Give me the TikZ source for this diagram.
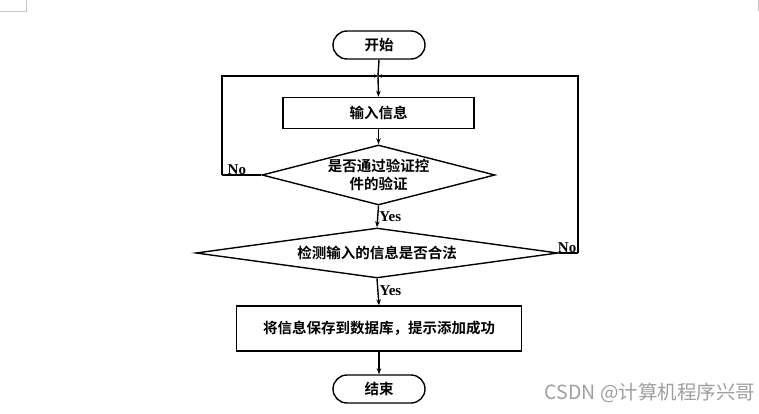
\documentclass[tikz,border=0pt]{standalone}
\usepackage{fontspec}
\setmainfont{Liberation Serif}
\newfontfamily\cjk{Noto Sans CJK SC}[BoldFont={Noto Sans CJK SC Bold}]
\usetikzlibrary{shapes.geometric,arrows.meta}
\begin{document}
\begin{tikzpicture}[x=1pt,y=-1pt,
  line width=1.4pt,
  arr/.style={-{Stealth[length=6pt,width=4.5pt]}},
  arrs/.style={-{Stealth[length=4pt,width=3.5pt]}},
  cjktext/.style={font=\cjk\bfseries\fontsize{14.5}{17.5}\selectfont},
  term/.style={draw,rectangle,rounded corners=14pt,minimum width=92pt,minimum height=28pt,inner sep=0pt,cjktext},
  procbox/.style={draw,rectangle,inner sep=0pt,cjktext},
  decide/.style={draw,diamond,inner sep=0pt,cjktext,align=center},
  lbl/.style={font=\bfseries\fontsize{15}{17}\selectfont,inner sep=1pt}
]
\useasboundingbox (0,0) rectangle (759,414);
% page corner marks
\draw[gray!45,line width=0.8pt] (0,11) -- (26,11) -- (26,0);
\draw[gray!45,line width=0.8pt] (758,0) -- (758,11);

\node[term] (start) at (379,45) {开始};
\node[procbox,minimum width=191pt,minimum height=31pt] (input) at (378.5,113) {输入信息};
\node[decide,aspect=3.9,minimum width=233pt,minimum height=60pt] (check1) at (378.5,175) {是否通过验证控\\件的验证};
\node[decide,aspect=7.2,minimum width=362pt,minimum height=50pt] (check2) at (377,253) {检测输入的信息是否合法};
\node[procbox,minimum width=285pt,minimum height=45pt] (save) at (379,328.5) {将信息保存到数据库，提示添加成功};
\node[term] (stop) at (379,389) {结束};

\coordinate (J) at (378,76);
\coordinate (L) at (222,175);
\coordinate (R) at (578,253);

\draw (start.south) -- (J);
\draw[arr] (J) -- (input.north);
\draw[arr] (input.south) -- (check1.north);
\draw (check1.west) -- (L);
\draw[arrs] (L) |- (J);
\draw (check2.east) -- (R);
\draw[arrs] (R) |- (J);
\draw[arr] (check1.south) -- node[lbl,right,pos=0.5] {Yes} (check2.north);
\draw[arr] (check2.south) -- node[lbl,right,pos=0.45] {Yes} (save.north);
\draw[arr] (save.south) -- (stop.north);

\node[lbl,anchor=south west] (no1) at ([xshift=4pt,yshift=-1pt]L) {No};
\node[lbl,anchor=south east] (no2) at ([xshift=0pt,yshift=-1pt]R) {No};

\node[anchor=east,text=gray!75,font=\cjk\fontsize{19.5}{21}\selectfont,inner sep=0pt] (wm) at (756,393) {CSDN @计算机程序兴哥};
\end{tikzpicture}
\end{document}
